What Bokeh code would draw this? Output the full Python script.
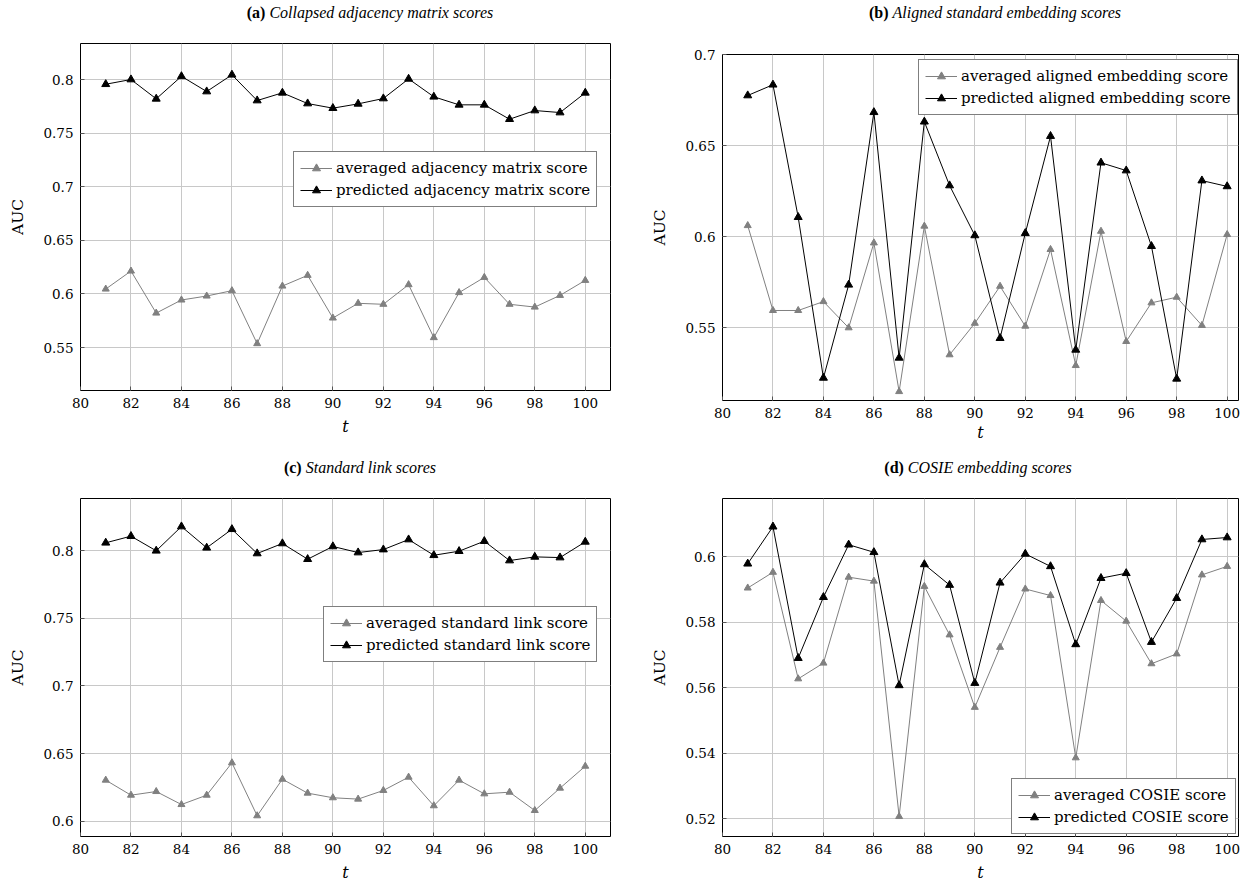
from bokeh.plotting import figure
from bokeh.models import FixedTicker, Legend, LegendItem, Range1d, Div
from bokeh.layouts import row, column
from bokeh.embed import file_html
from bokeh.resources import INLINE

# ---------------- data ----------------
t = [81, 82, 83, 84, 85, 86, 87, 88, 89, 90, 91, 92, 93, 94, 95, 96, 97, 98, 99, 100]

a_avg = [0.6046, 0.6214, 0.5822, 0.5944, 0.5981, 0.6031, 0.5537, 0.6074, 0.6174, 0.5776,
         0.5913, 0.5904, 0.6087, 0.5593, 0.6013, 0.6155, 0.5904, 0.5878, 0.5987, 0.6127]
a_pred = [0.7956, 0.8000, 0.7820, 0.8030, 0.7888, 0.8044, 0.7804, 0.7876, 0.7776, 0.7733,
          0.7773, 0.7823, 0.8006, 0.7839, 0.7764, 0.7764, 0.7630, 0.7711, 0.7692, 0.7876]
b_avg = [0.6061, 0.5595, 0.5595, 0.5644, 0.5500, 0.5966, 0.5150, 0.6058, 0.5352, 0.5525,
         0.5728, 0.5509, 0.5930, 0.5293, 0.6030, 0.5425, 0.5637, 0.5668, 0.5513, 0.6012]
b_pred = [0.6775, 0.6834, 0.6107, 0.5225, 0.5736, 0.6683, 0.5335, 0.6631, 0.6281, 0.6007,
          0.5443, 0.6019, 0.6552, 0.5379, 0.6406, 0.6363, 0.5948, 0.5220, 0.6308, 0.6276]
c_avg = [0.6305, 0.6194, 0.6221, 0.6125, 0.6194, 0.6433, 0.6042, 0.6312, 0.6209, 0.6175,
         0.6165, 0.6229, 0.6327, 0.6116, 0.6305, 0.6204, 0.6216, 0.6081, 0.6246, 0.6408]
c_pred = [0.8057, 0.8106, 0.7998, 0.8177, 0.8020, 0.8157, 0.7978, 0.8052, 0.7936, 0.8030,
          0.7985, 0.8007, 0.8081, 0.7965, 0.7995, 0.8069, 0.7926, 0.7953, 0.7948, 0.8064]
d_avg = [0.5904, 0.5952, 0.5627, 0.5675, 0.5937, 0.5925, 0.5207, 0.5909, 0.5761, 0.5540,
         0.5723, 0.5901, 0.5881, 0.5386, 0.5866, 0.5803, 0.5673, 0.5703, 0.5944, 0.5970]
d_pred = [0.5978, 0.6091, 0.5690, 0.5876, 0.6036, 0.6013, 0.5607, 0.5976, 0.5913, 0.5614,
          0.5920, 0.6008, 0.5970, 0.5732, 0.5934, 0.5949, 0.5739, 0.5873, 0.6052, 0.6058]

x_ticks = [80, 82, 84, 86, 88, 90, 92, 94, 96, 98, 100]
x_tick_labels = ["80", "82", "84", "86", "88", "90", "92", "94", "96", "98", "100"]

a_y_ticks = [0.55, 0.6, 0.65, 0.7, 0.75, 0.8]
a_y_labels = ["0.55", "0.6", "0.65", "0.7", "0.75", "0.8"]
b_y_ticks = [0.55, 0.6, 0.65, 0.7]
b_y_labels = ["0.55", "0.6", "0.65", "0.7"]
c_y_ticks = [0.6, 0.65, 0.7, 0.75, 0.8]
c_y_labels = ["0.6", "0.65", "0.7", "0.75", "0.8"]
d_y_ticks = [0.52, 0.54, 0.56, 0.58, 0.6]
d_y_labels = ["0.52", "0.54", "0.56", "0.58", "0.6"]

a_names = ["averaged adjacency matrix score", "predicted adjacency matrix score"]
b_names = ["averaged aligned embedding score", "predicted aligned embedding score"]
c_names = ["averaged standard link score", "predicted standard link score"]
d_names = ["averaged COSIE score", "predicted COSIE score"]

titles = [("(a)", "Collapsed adjacency matrix scores"),
          ("(b)", "Aligned standard embedding scores"),
          ("(c)", "Standard link scores"),
          ("(d)", "COSIE embedding scores")]

SERIF = "DejaVu Serif"
TSERIF = "Liberation Serif"
GRAY = "#808080"
GRID = "#c8c8c8"


def title_div(title, height, shift):
    html = ('<div style="width:630px;height:%dpx;line-height:%dpx;text-align:center;'
            'white-space:nowrap;font-family:\'%s\';font-size:16px;color:#000;">'
            '<span style="position:relative;left:%dpx;"><b>%s</b> <i>%s</i></span></div>'
            % (height, height, TSERIF, shift, title[0], title[1]))
    return Div(text=html, width=630, height=height, margin=(0, 0, 0, 0))


def panel(avg, pred, names, yt, yl, yr, xmax, borders, frame, legend_loc, t_standoff):
    bl, br, bt, bb = borders
    fw, fh = frame
    p = figure(frame_width=fw, frame_height=fh,
               min_border_left=bl, min_border_right=br,
               min_border_top=bt, min_border_bottom=bb,
               x_range=Range1d(80, xmax), y_range=Range1d(*yr),
               output_backend="svg", toolbar_location=None,
               background_fill_color="white", border_fill_color="white",
               outline_line_color="black", outline_line_width=1)

    xtk = FixedTicker(ticks=x_ticks)
    ytk = FixedTicker(ticks=yt)
    p.xaxis.ticker = xtk
    p.yaxis.ticker = ytk
    p.xaxis.major_label_overrides = {float(v): s for v, s in zip(x_ticks, x_tick_labels)}
    p.yaxis.major_label_overrides = {float(v): s for v, s in zip(yt, yl)}
    for ax in (p.xaxis, p.yaxis):
        ax.axis_line_color = None
        ax.major_tick_in = 4
        ax.major_tick_out = 0
        ax.major_tick_line_color = "#555555"
        ax.minor_tick_line_color = None
        ax.major_label_text_font = SERIF
        ax.major_label_text_font_size = "13.5px"
        ax.major_label_text_color = "black"
        ax.major_label_standoff = 7
        ax.axis_label_text_font = SERIF
        ax.axis_label_text_color = "black"
    p.xaxis.axis_label = "t"
    p.xaxis.axis_label_text_font_style = "italic"
    p.xaxis.axis_label_text_font_size = "16px"
    p.xaxis.axis_label_standoff = t_standoff
    p.yaxis.axis_label = "AUC"
    p.yaxis.axis_label_text_font_style = "normal"
    p.yaxis.axis_label_text_font_size = "15.5px"
    p.yaxis.axis_label_standoff = 13

    p.xgrid.ticker = xtk
    p.ygrid.ticker = ytk
    p.xgrid.grid_line_color = GRID
    p.ygrid.grid_line_color = GRID
    p.xgrid.grid_line_width = 1
    p.ygrid.grid_line_width = 1

    l1 = p.line(t, avg, line_color=GRAY, line_width=1)
    s1 = p.scatter(t, avg, marker="triangle", size=7, fill_color=GRAY, line_color=GRAY)
    l2 = p.line(t, pred, line_color="black", line_width=1)
    s2 = p.scatter(t, pred, marker="triangle", size=8, fill_color="black", line_color="black")

    leg = Legend(items=[LegendItem(label=names[0], renderers=[l1, s1]),
                        LegendItem(label=names[1], renderers=[l2, s2])],
                 location=legend_loc, margin=0, padding=6, spacing=2,
                 glyph_width=32, glyph_height=20, label_height=20, label_standoff=4,
                 label_text_font=SERIF, label_text_font_size="15px",
                 label_text_color="black",
                 border_line_color="black", border_line_width=1,
                 background_fill_color="white", background_fill_alpha=1)
    p.add_layout(leg)
    return p


pa = panel(a_avg, a_pred, a_names, a_y_ticks, a_y_labels, (0.510, 0.8336), 101,
           (80, 20, 18, 56), (530, 347), (213, 183), 6)
pb = panel(b_avg, b_pred, b_names, b_y_ticks, b_y_labels, (0.5101, 0.700), 100.45,
           (92, 22, 29, 46), (516, 346), (196, 285), 2)
pc = panel(c_avg, c_pred, c_names, c_y_ticks, c_y_labels, (0.5889, 0.8384), 101,
           (80, 20, 8, 56), (530, 338), (243, 174), 6)
pd_ = panel(d_avg, d_pred, d_names, d_y_ticks, d_y_labels, (0.5146, 0.6177), 100.45,
            (92, 22, 8, 56), (516, 338), (289, 2), 6)

ta = title_div(titles[0], 25, 55)
tb = title_div(titles[1], 25, 50)
tc = title_div(titles[2], 44, 45)
td = title_div(titles[3], 44, 33)

layout = column(row(column(ta, pa), column(tb, pb)),
                row(column(tc, pc), column(td, pd_)))

open("out.html", "w").write(file_html(layout, INLINE))
